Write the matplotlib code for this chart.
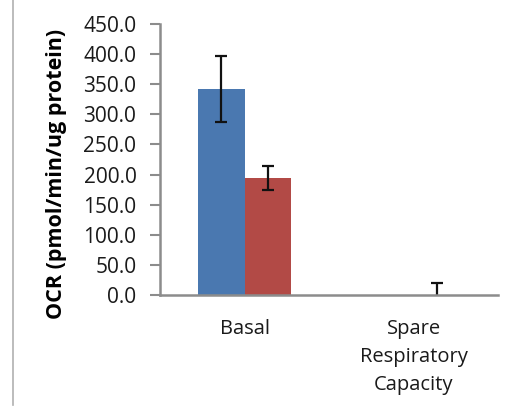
import matplotlib.pyplot as plt
from matplotlib.lines import Line2D
import numpy as np

plt.rcParams['font.family'] = ['Open Sans', 'DejaVu Sans']

categories = ["Basal", "Spare\nRespiratory\nCapacity"]
series_a = [342.0, 0.0]
series_a_err = [54.5, np.nan]
series_b = [194.0, 0.0]
series_b_err = [19.5, 19.4]
yticks = [0, 50, 100, 150, 200, 250, 300, 350, 400, 450]

W, H = 522, 412
fig = plt.figure(figsize=(W / 100, H / 100), dpi=100)
ax = fig.add_axes([160 / W, (H - 295) / H, 338 / W, 271 / H])

x = np.arange(len(categories))
bw = 0.278
err_style = dict(ecolor="#111111", elinewidth=1.6, capsize=4, capthick=1.6)
ax.bar(x - bw / 2, series_a, bw, color="#4a78b0", linewidth=0,
       yerr=series_a_err, error_kw=err_style)
ax.bar(x + bw / 2, series_b, bw, color="#b24a46", linewidth=0,
       yerr=series_b_err, error_kw=err_style)

ax.set_xlim(-0.5, 1.5)
ax.set_ylim(0, 450)
ax.set_yticks(yticks)
ax.set_yticklabels([f"{v:.1f}" for v in yticks], fontsize=15, color="#1a1a1a")
ax.set_xticks(x)
ax.set_xticklabels(categories, fontsize=14.5, color="#1a1a1a", linespacing=1.55)
ax.tick_params(axis="x", length=0, pad=17)
ax.tick_params(axis="y", direction="out", length=7, width=1.5, color="#8c8c8c", pad=10)

for side in ("top", "right"):
    ax.spines[side].set_visible(False)
for side in ("left", "bottom"):
    ax.spines[side].set_color("#8c8c8c")
    ax.spines[side].set_linewidth(1.8)
    ax.spines[side].set_zorder(5)

ax.set_ylabel("OCR (pmol/min/ug protein)", fontsize=15.5, fontweight="bold")
ax.yaxis.set_label_coords(-0.275, 0.446)

# thin frame line on the left edge
fig.add_artist(Line2D([12.5 / W, 12.5 / W], [1 - 405 / H, 1], color="#b0b0b0", linewidth=1.2))

fig.savefig("out.png", dpi=100)
